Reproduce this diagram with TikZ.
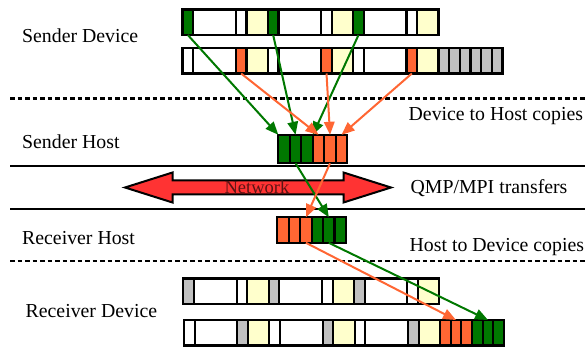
\documentclass[tikz,border=0pt]{standalone}
\usepackage{fontspec}
\setmainfont{Liberation Serif}
\usetikzlibrary{arrows.meta}

\definecolor{grn}{RGB}{0,120,0}
\definecolor{org}{RGB}{255,102,51}
\definecolor{ylw}{RGB}{255,255,204}
\definecolor{gry}{RGB}{192,192,192}
\definecolor{netred}{RGB}{255,51,51}
\definecolor{nettext}{RGB}{90,20,20}

\tikzset{
  cell/.style={draw=black, line width=2.2pt, inner sep=0pt, outer sep=0pt,
    anchor=north west, minimum height=#1},
  cell/.default=25.5pt,
  lbl/.style={anchor=base west, inner sep=0pt, font=\rmfamily\fontsize{19.8}{22}\selectfont},
  sep/.style={line width=2pt},
  dsep/.style={line width=2.8pt, dash pattern=on 4.5pt off 3pt},
  flow/.style={line width=2pt, -{Triangle[length=13pt,width=10.5pt]}},
}

\begin{document}
\begin{tikzpicture}[x=1pt, y=-1pt]
\useasboundingbox (0,0) rectangle (587,350);

% layer separators
\draw[dsep] (10,98.5) -- (587,98.5);
\draw[sep]  (10,166.5) -- (585,166.5);
\draw[sep]  (10,209) -- (585,209);
\draw[dsep] (10,261) -- (587,261);

% layer labels
\node[lbl] (lsd) at (22,43) {Sender Device};
\node[lbl] (lsh) at (22,149) {Sender Host};
\node[lbl] (lrh) at (22,244.5) {Receiver Host};
\node[lbl] (lrd) at (25.5,317.5) {Receiver Device};
\node[lbl] (ld2h) at (408.5,120.5) {Device to Host copies};
\node[lbl] (lqmp) at (410.5,194) {QMP/MPI transfers};
\node[lbl] (lh2d) at (409.5,251.5) {Host to Device copies};

% sender device, first field
\foreach \s/\w/\c [count=\i] in {0/1/grn,1/4/white,5/1/white,6/2/ylw,
    8/1/grn,9/4/white,13/1/white,14/2/ylw,
    16/1/grn,17/4/white,21/1/white,22/2/ylw}
  \node[cell, fill=\c, minimum width=\w*10.667pt] (a\i) at ({182.5+\s*10.667},9.5) {};

% sender device, second field
\foreach \s/\w/\c [count=\i] in {0/1/white,1/4/white,5/1/org,6/2/ylw,
    8/1/white,9/4/white,13/1/org,14/2/ylw,
    16/1/white,17/4/white,21/1/org,22/2/ylw,
    24/1/gry,25/1/gry,26/1/gry,27/1/gry,28/1/gry,29/1/gry}
  \node[cell, fill=\c, minimum width=\w*10.667pt] (b\i) at ({182.5+\s*10.667},48) {};

% sender host buffer
\foreach \c [count=\i] in {grn,grn,grn,org,org,org}
  \node[cell=28.5pt, fill=\c, minimum width=11.5pt] (h\i) at ({278.3+(\i-1)*11.5},134.8) {};

% receiver host buffer
\foreach \c [count=\i] in {org,org,org,grn,grn,grn}
  \node[cell, fill=\c, minimum width=11.45pt] (r\i) at ({277.3+(\i-1)*11.45},217.3) {};

% receiver device, first field
\foreach \s/\w/\c [count=\i] in {0/1/gry,1/4/white,5/1/white,6/2/ylw,
    8/1/gry,9/4/white,13/1/white,14/2/ylw,
    16/1/gry,17/4/white,21/1/white,22/2/ylw}
  \node[cell, fill=\c, minimum width=\w*10.667pt] (c\i) at ({183.3+\s*10.667},278.5) {};

% receiver device, second field
\foreach \s/\w/\c [count=\i] in {0/1/white,1/4/white,5/1/gry,6/2/ylw,
    8/1/white,9/4/white,13/1/gry,14/2/ylw,
    16/1/white,17/4/white,21/1/gry,22/2/ylw,
    24/1/org,25/1/org,26/1/org,27/1/grn,28/1/grn,29/1/grn}
  \node[cell, fill=\c, minimum width=\w*10.667pt] (d\i) at ({184+\s*10.667},320) {};

% network arrow
\draw[line width=2pt, fill=netred, line join=miter]
  (125,187.5) -- (172.5,172.5) -- (172.5,180.5) -- (343.5,180.5) -- (343.5,172.5)
  -- (391,187.5) -- (343.5,202.5) -- (343.5,194.5) -- (172.5,194.5) -- (172.5,202.5) -- cycle;
\node[inner sep=0pt, anchor=base, text=nettext, font=\rmfamily\fontsize{18.5}{20}\selectfont]
  (net) at (257,193.3) {Network};

% device to host copies
\draw[flow, grn] (a1.south) -- (h1.north west);
\draw[flow, grn] (a5.south) -- (h2.north);
\draw[flow, grn] (a9.south) -- (h3.north east);
\draw[flow, org] (b3.south) -- (h4.north);
\draw[flow, org] (b7.south) -- (h5.north);
\draw[flow, org] (b11.south) -- (h6.north);

% network transfers
\draw[flow, grn] (h2.south) -- (r5.north);
\draw[flow, org] (h5.south) -- (r3.north);

% host to device copies
\draw[flow, org] (r3.south) -- (d14.north);
\draw[flow, grn] (r5.south) -- (d17.north);
\end{tikzpicture}
\end{document}
